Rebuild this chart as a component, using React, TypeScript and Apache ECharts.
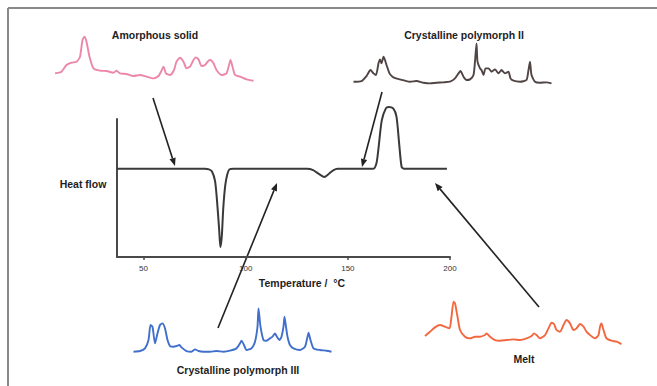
import React, { useEffect, useRef } from "react";
import * as echarts from "echarts";

// DSC thermogram: [temperature °C, heat flow (arb.)]
const dscCurve: [number, number][] = [
  [37, 64], [80, 64], [82, 63.5], [83.5, 62], [85, 55], [86, 40], [87, 20], [87.6, 7],
  [88.3, 15], [89, 35], [90, 52], [91, 60], [92, 63.5], [94, 64],
  [130, 64], [133, 63], [136, 60], [138.5, 58], [140.5, 60], [143, 63], [145, 64],
  [162.5, 64], [164, 68], [164.9, 77.5], [166.6, 99], [168.6, 107.7], [170, 108.7],
  [172.2, 107.7], [173.8, 101.7], [175.1, 82.4], [176.3, 65.4], [177.5, 64], [198.5, 64],
];
const tempTicks = [50, 100, 150, 200];

// XRD patterns: [2θ, intensity]
const amorphous: [number, number][] = [
  [5.0, 20], [6.3, 22.5], [7.3, 32.5], [8.3, 36], [9.3, 37.5], [10.0, 45], [10.5, 70], [10.9, 75],
  [11.3, 67.5], [11.9, 45], [12.7, 27.5], [14.0, 24], [15.3, 23.5], [16.7, 21], [17.3, 24], [18.0, 20],
  [19.3, 19], [20.7, 16], [22.0, 17.5], [23.3, 15], [24.7, 12.5], [25.7, 16], [26.2, 22.5], [26.7, 30],
  [27.2, 20], [28.0, 17.5], [28.8, 25], [29.3, 37.5], [30.0, 43.5], [30.7, 37.5], [31.3, 27.5], [32.0, 30],
  [32.7, 40], [33.1, 44], [33.7, 41], [34.3, 31], [35.0, 32.5], [35.7, 39], [36.1, 40], [36.7, 35],
  [37.3, 25], [38.3, 17.5], [39.3, 20], [39.8, 32.5], [40.1, 40], [40.5, 30], [41.0, 17.5], [42.0, 15],
  [43.3, 11], [44.7, 9],
];
const polymorphII: [number, number][] = [
  [2.7, 7.5], [4.3, 8.5], [5.3, 16], [6.1, 25], [6.7, 20], [7.2, 17.5], [7.7, 35], [8.0, 41],
  [8.3, 35], [8.7, 45], [9.0, 40], [9.3, 32.5], [9.9, 20], [10.5, 15], [11.2, 12.5], [12.0, 11],
  [13.0, 9], [14.0, 7.5], [15.3, 8.5], [16.7, 6], [18.0, 5], [19.3, 6], [20.7, 6.5], [22.0, 7.5],
  [23.0, 12.5], [23.7, 20], [24.1, 23.5], [24.7, 15], [25.3, 10], [26.0, 11], [26.7, 17.5], [27.0, 37.5],
  [27.3, 65], [27.5, 37.5], [28.0, 27.5], [28.3, 25], [28.7, 17.5], [29.1, 27.5], [29.7, 27.5], [30.3, 22.5],
  [31.0, 26], [31.7, 20], [32.3, 25], [33.0, 20], [33.7, 22.5], [34.1, 12.5], [34.7, 9], [36.0, 7.5],
  [37.3, 10], [37.7, 25], [38.0, 37.5], [38.3, 17.5], [39.0, 7.5], [40.0, 6], [41.3, 6.5], [42.3, 5],
];
const polymorphIII: [number, number][] = [
  [2.7, 7.5], [4.0, 8.5], [5.0, 12.5], [5.7, 25], [6.1, 47.5], [6.5, 45], [7.0, 20], [7.5, 35],
  [8.0, 47.5], [8.5, 50], [9.0, 42.5], [9.5, 25], [10.0, 16], [10.7, 15], [11.3, 16], [11.9, 17.5],
  [12.3, 14], [13.3, 8.5], [14.3, 7.5], [15.0, 11], [15.7, 8.5], [16.7, 7.5], [18.0, 7.5], [19.3, 8.5],
  [20.7, 7.5], [22.0, 9], [23.3, 12.5], [24.0, 20], [24.3, 24], [24.8, 17.5], [25.3, 10], [26.3, 12.5],
  [27.0, 22.5], [27.5, 45], [27.7, 72.5], [28.1, 45], [28.7, 25], [29.3, 24], [30.0, 27.5], [30.5, 30],
  [31.0, 35], [31.3, 31], [31.9, 25], [32.3, 30], [32.7, 45], [32.9, 60], [33.2, 45], [33.5, 30],
  [34.0, 17.5], [34.7, 12.5], [36.0, 10], [37.0, 15], [37.5, 30], [37.7, 36], [38.1, 25], [38.7, 12.5],
  [40.0, 10], [41.3, 9], [42.3, 7.5],
];
const melt: [number, number][] = [
  [1.0, 16], [2.0, 22.5], [3.0, 29], [4.0, 32.5], [5.0, 30], [5.9, 27.5], [6.3, 45], [6.7, 67.5],
  [7.0, 65], [7.5, 45], [8.0, 25], [9.0, 15], [10.0, 12.5], [11.0, 15], [12.0, 15], [13.0, 17.5],
  [13.3, 20], [14.0, 15], [15.0, 10], [16.0, 9], [17.3, 10], [18.7, 11], [20.0, 10], [21.3, 12.5],
  [22.3, 16], [22.8, 20], [23.3, 17.5], [24.0, 12.5], [25.0, 17.5], [25.7, 27.5], [26.3, 36], [26.8, 34],
  [27.3, 25], [28.0, 22.5], [28.7, 32.5], [29.3, 40], [30.0, 35], [30.7, 25], [31.3, 27.5], [32.0, 34],
  [32.7, 30], [33.3, 22.5], [34.0, 17.5], [35.0, 12.5], [35.7, 17.5], [36.0, 30], [36.3, 35], [36.7, 25],
  [37.3, 12.5], [38.3, 9], [39.3, 7.5], [40.3, 4],
];

const FONT = "'Liberation Sans', Arial, sans-serif";

function arrow(x1: number, y1: number, x2: number, y2: number) {
  const dx = x2 - x1, dy = y2 - y1;
  const L = Math.hypot(dx, dy);
  const ux = dx / L, uy = dy / L;
  const hl = 8, hw = 3.2;
  const bx = x2 - ux * hl, by = y2 - uy * hl;
  return [
    { type: "line", shape: { x1, y1, x2: bx, y2: by }, style: { stroke: "#222", lineWidth: 1.6 } },
    {
      type: "polygon",
      shape: { points: [[x2, y2], [bx - uy * hw, by + ux * hw], [bx + uy * hw, by - ux * hw]] },
      style: { fill: "#222" },
    },
  ];
}

function label(text: string, x: number, y: number, size = 10.5) {
  return {
    type: "text",
    x, y,
    style: { text, fill: "#1e1e1e", font: `bold ${size}px ${FONT}`, align: "center", verticalAlign: "middle" },
  };
}

const hidden = { show: false };

export default function App() {
  const ref = useRef<HTMLDivElement>(null);
  useEffect(() => {
    if (!ref.current) return;
    const chart = echarts.init(ref.current, null, { renderer: "svg" });
    const insetY = (min: number, max: number) => ({
      type: "value", min, max, show: false, splitLine: hidden, axisLine: hidden, axisTick: hidden, axisLabel: hidden,
    });
    const insetX = (gridIndex: number, min: number, max: number) => ({
      type: "value", gridIndex, min, max, show: false, splitLine: hidden, axisLine: hidden, axisTick: hidden, axisLabel: hidden,
    });
    const spec = (idx: number, data: [number, number][], color: string) => ({
      type: "line", xAxisIndex: idx, yAxisIndex: idx, data, showSymbol: false, symbol: "none",
      lineStyle: { color, width: 1.9, opacity: 0.9 }, clip: false, smooth: 0.2,
    });
    chart.setOption({
      animation: false,
      backgroundColor: "#ffffff",
      grid: [
        { left: 117, top: 119, width: 333, height: 138 },
        { left: 55, top: 20, width: 198.5, height: 66.7 },
        { left: 353, top: 20, width: 199, height: 66.7 },
        { left: 133, top: 290, width: 199, height: 66.7 },
        { left: 425, top: 280, width: 197, height: 66.7 },
      ],
      xAxis: [
        {
          type: "value", gridIndex: 0, min: 37, max: 200,
          splitLine: hidden,
          axisLine: { show: true, onZero: false, lineStyle: { color: "#4a4a4a", width: 2 } },
          axisTick: { show: true, customValues: tempTicks, length: 3, lineStyle: { color: "#4a4a4a", width: 1.5 } },
          axisLabel: { show: true, customValues: tempTicks, fontSize: 8, color: "#333", margin: 7, fontFamily: FONT },
        },
        insetX(1, 5, 44.7),
        insetX(2, 2.6, 42.4),
        insetX(3, 2.6, 42.4),
        insetX(4, 1, 40.4),
      ],
      yAxis: [
        {
          type: "value", gridIndex: 0, min: 0, max: 100,
          splitLine: hidden,
          axisLine: { show: true, lineStyle: { color: "#4a4a4a", width: 2 } },
          axisTick: hidden, axisLabel: hidden,
        },
        { ...insetY(0, 100), gridIndex: 1 },
        { ...insetY(0, 100), gridIndex: 2 },
        { ...insetY(0, 100), gridIndex: 3 },
        { ...insetY(0, 100), gridIndex: 4 },
      ],
      series: [
        {
          type: "line", xAxisIndex: 0, yAxisIndex: 0, data: dscCurve, showSymbol: false, symbol: "none",
          lineStyle: { color: "#3a3a3a", width: 2 }, clip: false, smooth: 0.25,
        },
        spec(1, amorphous, "#ea7aa0"),
        spec(2, polymorphII, "#3d3030"),
        spec(3, polymorphIII, "#2c5fc6"),
        spec(4, melt, "#f2562a"),
      ],
      graphic: [
        { type: "line", shape: { x1: 8, y1: 8, x2: 657, y2: 8 }, style: { stroke: "#8a8a8a", lineWidth: 2 } },
        { type: "line", shape: { x1: 8, y1: 8, x2: 8, y2: 386 }, style: { stroke: "#8a8a8a", lineWidth: 2 } },
        label("Amorphous solid", 155, 35),
        label("Crystalline polymorph II", 464, 35),
        label("Crystalline polymorph III", 238, 370),
        label("Melt", 524, 359),
        label("Heat flow", 83, 184),
        label("Temperature /  °C", 302, 283),
        ...arrow(153, 98, 175, 166),
        ...arrow(382, 92, 362, 167),
        ...arrow(218, 328, 277, 183),
        ...arrow(539, 307, 435, 183),
      ],
    });
    return () => chart.dispose();
  }, []);
  return <div ref={ref} style={{ position: "fixed", left: 0, top: 0, width: 657, height: 386 }} />;
}
